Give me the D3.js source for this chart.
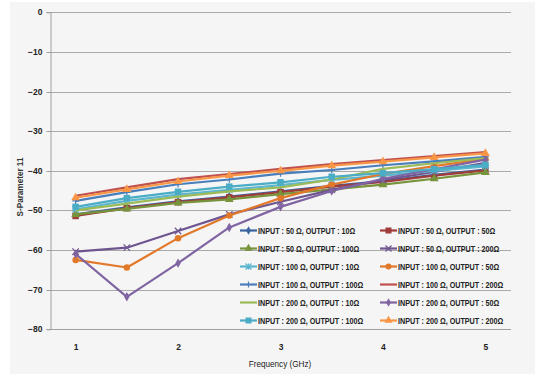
<!DOCTYPE html>
<html>
<head>
<meta charset="utf-8">
<script src="https://cdn.jsdelivr.net/npm/d3@7"></script>
<style>
  html, body { margin: 0; padding: 0; background: #ffffff; }
  svg { display: block; }
  text { font-family: "Liberation Sans", "DejaVu Sans", sans-serif; }
</style>
</head>
<body>
<svg id="chart" width="535" height="374"></svg>
<script>
// Frequency sweep points (GHz)
const frequencies = [1, 1.5, 2, 2.5, 3, 3.5, 4, 4.5, 5];
const xTicks = [1, 2, 3, 4, 5];
const yTicks = [0, -10, -20, -30, -40, -50, -60, -70, -80];

// Series labels (input / output termination)
const seriesNames = [
  "INPUT : 50 Ω, OUTPUT : 10Ω",
  "INPUT : 50 Ω, OUTPUT : 50Ω",
  "INPUT : 50 Ω, OUTPUT : 100Ω",
  "INPUT : 50 Ω, OUTPUT : 200Ω",
  "INPUT : 100 Ω, OUTPUT : 10Ω",
  "INPUT : 100 Ω, OUTPUT : 50Ω",
  "INPUT : 100 Ω, OUTPUT : 100Ω",
  "INPUT : 100 Ω, OUTPUT : 200Ω",
  "INPUT : 200 Ω, OUTPUT : 10Ω",
  "INPUT : 200 Ω, OUTPUT : 50Ω",
  "INPUT : 200 Ω, OUTPUT : 100Ω",
  "INPUT : 200 Ω, OUTPUT : 200Ω"
];

// S11 (dB) per series
const s11_50_10   = [-51.0, -49.2, -47.7, -46.5, -45.2, -43.8, -42.6, -41.0, -39.7];
const s11_50_50   = [-51.4, -49.4, -47.9, -46.7, -45.4, -44.0, -42.8, -41.2, -39.9];
const s11_50_100  = [-51.0, -49.6, -48.1, -47.2, -45.9, -44.7, -43.5, -42.0, -40.4];
const s11_50_200  = [-60.4, -59.4, -55.2, -51.0, -47.8, -44.8, -42.3, -40.3, -38.0];
const s11_100_10  = [-49.7, -47.6, -46.0, -44.8, -43.6, -42.3, -41.2, -40.0, -38.9];
const s11_100_50  = [-62.5, -64.4, -57.0, -51.3, -46.9, -43.5, -40.8, -38.8, -37.0];
const s11_100_100 = [-47.6, -45.4, -43.4, -42.2, -40.7, -39.8, -38.6, -37.6, -36.5];
const s11_100_200 = [-46.3, -44.2, -42.1, -40.8, -39.5, -38.3, -37.3, -36.3, -35.3];
const s11_200_10  = [-50.0, -48.3, -46.5, -45.2, -44.2, -42.2, -39.5, -38.1, -36.8];
const s11_200_50  = [-61.0, -71.8, -63.3, -54.3, -49.1, -45.1, -42.0, -39.6, -37.2];
const s11_200_100 = [-49.1, -46.9, -45.3, -44.0, -42.9, -41.5, -40.6, -39.6, -38.5];
const s11_200_200 = [-46.8, -44.7, -42.7, -41.2, -40.0, -38.7, -37.7, -36.6, -35.6];

const seriesValues = [
  s11_50_10, s11_50_50, s11_50_100, s11_50_200,
  s11_100_10, s11_100_50, s11_100_100, s11_100_200,
  s11_200_10, s11_200_50, s11_200_100, s11_200_200
];

const seriesColors = [
  "#3A65A0", "#A03C3A", "#77933C", "#6E5590",
  "#5DB6CF", "#E2792A", "#4A7EBB", "#C0504D",
  "#9BBB59", "#8064A2", "#4BACC6", "#F79646"
];
const seriesMarkers = [
  "diamond", "square", "triangle", "cross",
  "star", "circle", "plus", "none",
  "none", "diamond", "square", "triangle"
];

const series = seriesNames.map((name, i) => ({
  name, color: seriesColors[i], marker: seriesMarkers[i],
  points: frequencies.map((f, j) => ({ f, v: seriesValues[i][j] }))
}));

const svg = d3.select("#chart");

// Chart background
svg.append("rect").attr("x", 10).attr("y", 2).attr("width", 525).attr("height", 372)
  .attr("fill", "#f5f5f5");

const x = d3.scaleLinear().domain([0.75, 5.25]).range([50, 511]);
const y = d3.scaleLinear().domain([-80, 0]).range([329.3, 12.3]);

// Horizontal gridlines
svg.append("g").selectAll("line").data(yTicks.filter(t => t !== -80)).join("line")
  .attr("x1", 50).attr("x2", 511)
  .attr("y1", d => Math.round(y(d)) + 0.5).attr("y2", d => Math.round(y(d)) + 0.5)
  .attr("stroke", "#a9a9a9").attr("stroke-width", 1);

// Y axis
const yAxis = d3.axisLeft(y).tickValues(yTicks).tickSize(4).tickPadding(4).tickFormat(d3.format("d"));
const gy = svg.append("g").attr("transform", "translate(50.5,0)").call(yAxis);
gy.select(".domain").attr("stroke", "#a0a0a0");
gy.selectAll(".tick line").attr("stroke", "#a0a0a0");
gy.selectAll(".tick text").attr("fill", "#222").attr("font-weight", "bold")
  .style("font-family", "'Liberation Sans', sans-serif").attr("font-size", 8.5);
gy.selectAll(".tick").attr("transform", d => `translate(0,${Math.round(y(d)) + 0.5})`);

// X axis
const xAxis = d3.axisBottom(x).tickValues(xTicks).tickSize(0).tickPadding(14).tickFormat(d3.format("d"));
const gx = svg.append("g").attr("transform", `translate(0,${Math.round(y(-80)) + 0.5})`).call(xAxis);
gx.select(".domain").attr("stroke", "#a0a0a0").attr("d", `M50,0H511`);
gx.selectAll(".tick text").attr("fill", "#222").attr("font-weight", "bold")
  .style("font-family", "'Liberation Sans', sans-serif").attr("font-size", 8.5);

// Axis titles (horizontally condensed)
svg.append("text").attr("transform", "translate(280,367) scale(0.86,1)").attr("text-anchor", "middle")
  .attr("font-size", 9.5).attr("fill", "#222").text("Frequency (GHz)");
svg.append("text").attr("transform", "translate(23,187) rotate(-90) scale(0.86,1)").attr("text-anchor", "middle")
  .attr("font-size", 9.5).attr("font-weight", "bold").attr("fill", "#333").text("S-Parameter 11");

// Marker drawing
function drawMarker(g, type, color, size) {
  const s = size;
  switch (type) {
    case "diamond":
      g.append("path").attr("d", d3.symbol(d3.symbolDiamond, s * s * 0.6)()).attr("fill", color); break;
    case "square":
      g.append("rect").attr("x", -s / 2).attr("y", -s / 2).attr("width", s).attr("height", s).attr("fill", color); break;
    case "triangle":
      g.append("path").attr("d", d3.symbol(d3.symbolTriangle, s * s * 0.8)()).attr("fill", color); break;
    case "circle":
      g.append("circle").attr("r", s / 2).attr("fill", color); break;
    case "cross":
      g.append("path").attr("d", `M${-s/2},${-s/2}L${s/2},${s/2}M${-s/2},${s/2}L${s/2},${-s/2}`)
        .attr("stroke", color).attr("stroke-width", 1.2).attr("fill", "none"); break;
    case "star":
      g.append("path").attr("d", `M${-s/2},${-s/2}L${s/2},${s/2}M${-s/2},${s/2}L${s/2},${-s/2}M0,${-s/2}L0,${s/2}`)
        .attr("stroke", color).attr("stroke-width", 1.2).attr("fill", "none"); break;
    case "plus":
      g.append("path").attr("d", `M0,${-s/2}L0,${s/2}M${-s/2},0L${s/2},0`)
        .attr("stroke", color).attr("stroke-width", 1.2).attr("fill", "none"); break;
  }
}

// Series lines and markers
const line = d3.line().x(d => x(d.f)).y(d => y(d.v));
const plot = svg.append("g");
series.forEach(s => {
  const g = plot.append("g");
  g.append("path").datum(s.points).attr("d", line)
    .attr("fill", "none").attr("stroke", s.color).attr("stroke-width", 2.2)
    .attr("stroke-linejoin", "round");
  if (s.marker !== "none") {
    s.points.forEach(p => {
      const m = g.append("g").attr("transform", `translate(${x(p.f)},${y(p.v)})`);
      drawMarker(m, s.marker, s.color, 6.5);
    });
  }
});

// Legend (two columns, row-major)
const legend = svg.append("g");
series.forEach((s, i) => {
  const col = i % 2, row = Math.floor(i / 2);
  const lx = col === 0 ? 240 : 380;
  const ly = 230.5 + row * 18;
  const g = legend.append("g").attr("transform", `translate(${lx},${ly})`);
  g.append("line").attr("x1", 0).attr("x2", 17).attr("y1", 0).attr("y2", 0)
    .attr("stroke", s.color).attr("stroke-width", 2.2);
  if (s.marker !== "none") {
    const m = g.append("g").attr("transform", "translate(8.5,0)");
    drawMarker(m, s.marker, s.color, 6);
  }
  g.append("text").attr("transform", "translate(18,3.3) scale(0.8,1)")
    .attr("font-size", 9).attr("font-weight", "bold")
    .attr("fill", "#222").text(s.name);
});
</script>
</body>
</html>
